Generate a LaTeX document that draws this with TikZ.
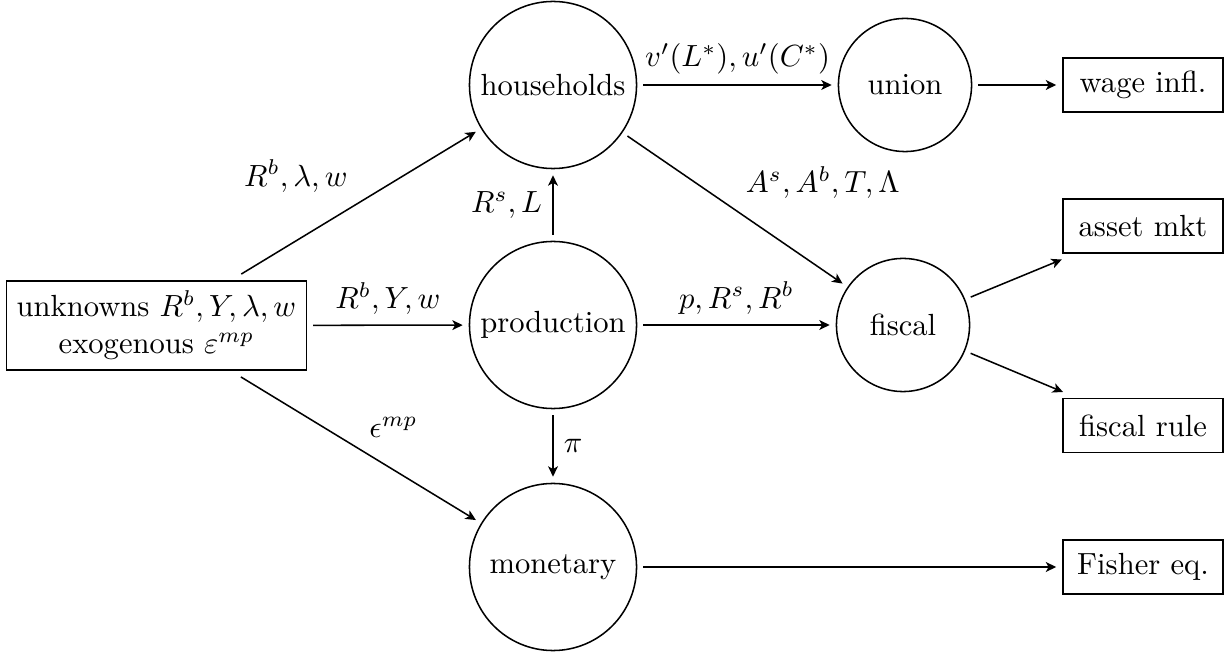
\documentclass[tikz,border=0pt]{standalone}
\usetikzlibrary{arrows.meta}
\begin{document}
\begin{tikzpicture}[x=0.3268pt,y=-0.3268pt, line width=0.5pt,
  big/.style={circle, draw, minimum size=54.6pt, inner sep=1pt, outer sep=2.2pt},
  small/.style={circle, draw, minimum size=43.5pt, inner sep=1pt, outer sep=2.2pt},
  box/.style={rectangle, draw, minimum width=52.3pt, minimum height=17.5pt, outer sep=2.2pt},
  inbox/.style={rectangle, draw, align=center, outer sep=2.2pt},
  arr/.style={-{Stealth[length=3.4pt,width=3.2pt,inset=0.9pt]}}]
\useasboundingbox (0,0) rectangle (1225,655);
\node[inbox] (unk) at (156.5,325.5) {unknowns $R^b, Y, \lambda, w$\\ exogenous $\varepsilon^{mp}$};
\node[big] (hh) at (553,85) {households};
\node[big] (prod) at (553,325) {production};
\node[big] (mon) at (553,567) {monetary};
\node[small] (union) at (905,85) {union};
\node[small] (fiscal) at (903,325) {fiscal};
\node[box] (wage) at (1143,85) {wage infl.};
\node[box] (asset) at (1143,226) {asset mkt};
\node[box] (frule) at (1143,425.5) {fiscal rule};
\node[box] (fisher) at (1143,567) {Fisher eq.};
\draw[arr] (unk) -- node[midway, above left] {$R^b, \lambda, w$} (hh);
\draw[arr] (unk) -- node[midway, above] {$R^b, Y, w$} (prod);
\draw[arr] (unk) -- node[midway, above right] {$\epsilon^{mp}$} (mon);
\draw[arr] (prod) -- node[midway, left] {$R^s, L$} (hh);
\draw[arr] (prod) -- node[midway, right] {$\pi$} (mon);
\draw[arr] (prod) -- node[midway, above] {$p, R^s, R^b$} (fiscal);
\draw[arr] (hh) -- node[midway, above right] {$A^s, A^b, T, \Lambda$} (fiscal);
\draw[arr] (hh) -- node[midway, above] {$v'(L^*), u'(C^*)$} (union);
\draw[arr] (union) -- (wage);
\draw[arr] (fiscal) -- (asset);
\draw[arr] (fiscal) -- (frule);
\draw[arr] (mon) -- (fisher);
\end{tikzpicture}
\end{document}
